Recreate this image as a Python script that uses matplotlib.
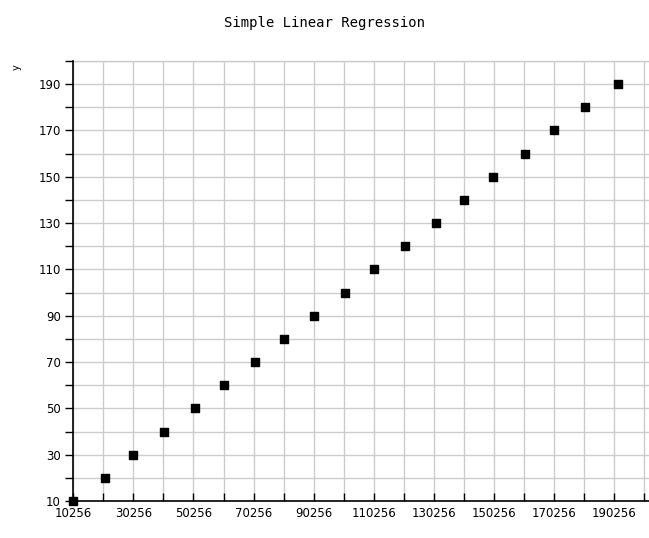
import numpy as np
import matplotlib
matplotlib.use("Agg")
import matplotlib.pyplot as plt
from matplotlib.ticker import MultipleLocator, FixedLocator

# --- data ------------------------------------------------------------------
x_vals = [10256, 20800, 30256, 40550, 50770, 60256, 70740, 80500, 90256,
          100800, 110460, 120680, 130890, 140256, 150000, 160520, 170256,
          180480, 191680]
y_vals = [10, 20, 30, 40, 50, 60, 70, 80, 90, 100, 110, 120, 130, 140,
          150, 160, 170, 180, 190]
x_labels = [10256 + 20000 * i for i in range(10)]
y_labels = list(range(10, 200, 20))

TITLE = "Simple Linear Regression"

fig = plt.figure(figsize=(6.49, 5.38), dpi=100)
ax = fig.add_axes([0.113, 0.0688, 0.887, 0.8178])

ax.scatter(x_vals, y_vals, marker="s", s=26, c="black", zorder=3, clip_on=False)

ax.set_xlim(10256, 201900)
ax.set_ylim(10, 200)

# grid every 10000 on x (anchored at 10256) and every 10 on y
x_grid = [10256 + 10000 * i for i in range(20)]
ax.xaxis.set_major_locator(FixedLocator(x_labels))
ax.xaxis.set_minor_locator(FixedLocator(x_grid))
ax.yaxis.set_major_locator(FixedLocator(y_labels))
ax.yaxis.set_minor_locator(MultipleLocator(10))
ax.set_xticklabels([str(v) for v in x_labels])
ax.set_yticklabels([str(v) for v in y_labels])

ax.grid(True, which="both", color="#cccccc", lw=1.0, zorder=0)
ax.set_axisbelow(True)

for side in ("top", "right"):
    ax.spines[side].set_visible(False)
for side in ("left", "bottom"):
    ax.spines[side].set_color("black")
    ax.spines[side].set_linewidth(1.2)
ax.axhline(200, color="#cccccc", lw=1.0, zorder=0, clip_on=False)

ax.tick_params(axis="x", which="both", direction="in", length=6, width=1,
               labelsize=8.5, pad=4)
ax.tick_params(axis="y", which="both", direction="out", length=6, width=1,
               labelsize=8.5, pad=3)

fig.text(0.5, 0.957, TITLE, ha="center", va="center",
         family="DejaVu Sans Mono", fontsize=10)
fig.text(0.025, 0.876, "y", ha="center", va="center", rotation=90, fontsize=7)

plt.savefig("out.png", dpi=100)
